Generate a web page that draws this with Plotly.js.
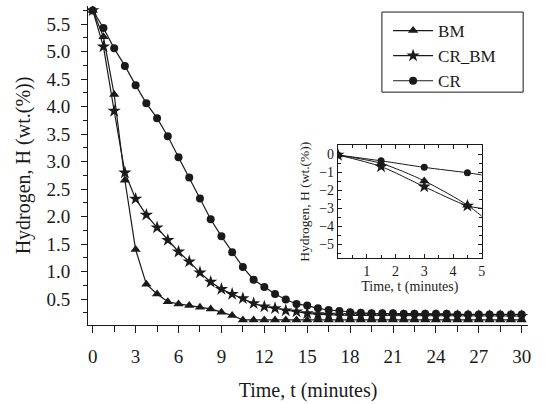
<!DOCTYPE html>
<html>
<head>
<meta charset="utf-8">
<script src="https://cdn.plot.ly/plotly-3.0.1.min.js"></script>
<style>html,body{margin:0;padding:0;background:#fff;}#chart{width:545px;height:404px;}</style>
</head>
<body>
<div id="chart"></div>
<script>
// Main chart data: time (minutes) and hydrogen content (wt.%)
const timeMin = [0, 0.75, 1.5, 2.25, 3, 3.75, 4.5, 5.25, 6, 6.75, 7.5, 8.25, 9, 9.75, 10.5, 11.25, 12, 12.75, 13.5, 14.25, 15, 15.75, 16.5, 17.25, 18, 18.75, 19.5, 20.25, 21, 21.75, 22.5, 23.25, 24, 24.75, 25.5, 26.25, 27, 27.75, 28.5, 29.25, 30];
const hBM = [5.75, 5.27, 4.22, 2.66, 1.40, 0.77, 0.59, 0.45, 0.41, 0.38, 0.35, 0.32, 0.26, 0.20, 0.12, 0.12, 0.12, 0.12, 0.12, 0.12, 0.12, 0.12, 0.12, 0.12, 0.12, 0.12, 0.12, 0.12, 0.12, 0.12, 0.12, 0.12, 0.12, 0.12, 0.12, 0.12, 0.12, 0.12, 0.12, 0.12, 0.12];
const hCRBM = [5.75, 5.09, 3.92, 2.80, 2.32, 2.03, 1.80, 1.57, 1.36, 1.18, 0.98, 0.81, 0.68, 0.59, 0.51, 0.42, 0.36, 0.33, 0.29, 0.27, 0.24, 0.22, 0.21, 0.20, 0.20, 0.20, 0.20, 0.20, 0.20, 0.19, 0.19, 0.19, 0.19, 0.19, 0.19, 0.19, 0.19, 0.19, 0.19, 0.19, 0.19];
const hCR = [5.75, 5.43, 5.06, 4.74, 4.39, 4.06, 3.79, 3.46, 3.08, 2.71, 2.33, 1.95, 1.64, 1.35, 1.08, 0.85, 0.72, 0.59, 0.49, 0.41, 0.38, 0.33, 0.30, 0.28, 0.26, 0.25, 0.24, 0.24, 0.24, 0.23, 0.23, 0.23, 0.23, 0.23, 0.22, 0.22, 0.22, 0.22, 0.22, 0.22, 0.22];

// Inset data: change in hydrogen (wt.%) over the first minutes
const insetTime = [0, 1.5, 3, 4.5, 5];
const insetBM = [-0.05, -0.51, -1.48, -2.82, -3.43];
const insetCRBM = [-0.05, -0.69, -1.80, -2.86, -3.00];
const insetCR = [-0.05, -0.37, -0.73, -1.03, -1.15];

const seriesNames = ['BM', 'CR_BM', 'CR'];

const FONT = 'Liberation Serif, Times New Roman, serif';
const BLACK = '#1a1a1a';

function mainTrace(y, name, symbol, size) {
  return {
    x: timeMin, y: y, name: name, type: 'scatter', mode: 'lines+markers',
    line: {color: BLACK, width: 1.2},
    marker: {symbol: symbol, size: size, color: BLACK, opacity: 1},
    xaxis: 'x', yaxis: 'y'
  };
}
function insetTrace(y, name, symbol, size) {
  const sizes = insetTime.map((t, i) => i === insetTime.length - 1 ? 0 : size);
  return {
    x: insetTime, y: y, name: name, type: 'scatter', mode: 'lines+markers',
    line: {color: BLACK, width: 1, shape: 'spline', smoothing: 0.8},
    marker: {symbol: symbol, size: sizes, color: BLACK, opacity: 1, line: {width: 0}},
    xaxis: 'x2', yaxis: 'y2', showlegend: false
  };
}

const data = [
  mainTrace(hBM, seriesNames[0], 'triangle-up', 9),
  mainTrace(hCRBM, seriesNames[1], 'star', 10),
  mainTrace(hCR, seriesNames[2], 'circle', 8),
  insetTrace(insetBM, seriesNames[0], 'triangle-up', 9),
  insetTrace(insetCRBM, seriesNames[1], 'star', 10),
  insetTrace(insetCR, seriesNames[2], 'circle', 7)
];

const xRange = [-0.33, 30.44];
const yRange = [0.027, 5.83];

const layout = {
  width: 545, height: 404,
  margin: {l: 88, r: 17, t: 6, b: 79},
  paper_bgcolor: '#fff', plot_bgcolor: 'rgba(0,0,0,0)',
  font: {family: FONT, color: BLACK, size: 19},
  showlegend: true,
  legend: {
    x: 0.682, y: 0.978, xanchor: 'left', yanchor: 'top',
    borderwidth: 0, bgcolor: 'rgba(0,0,0,0)',
    font: {family: FONT, size: 17, color: BLACK},
    itemwidth: 40, tracegroupgap: 0
  },
  shapes: [{
    type: 'rect', xref: 'paper', yref: 'paper',
    x0: 0.668, x1: 0.989, y0: 0.730, y1: 0.981,
    line: {color: BLACK, width: 1}, fillcolor: 'rgba(0,0,0,0)', layer: 'above'
  }],
  xaxis: {
    range: xRange, showgrid: false, zeroline: false,
    showline: true, linecolor: BLACK, linewidth: 1,
    ticks: 'outside', ticklen: 7, tickwidth: 1, tickcolor: BLACK,
    tick0: 0, dtick: 3, ticklabelstandoff: 7,
    minor: {dtick: 1.5, tick0: 0, ticks: 'outside', ticklen: 6, tickcolor: BLACK},
    tickfont: {family: FONT, size: 19, color: BLACK},
    title: {text: 'Time, t (minutes)', font: {family: FONT, size: 20, color: BLACK}, standoff: 17},
    anchor: 'y'
  },
  yaxis: {
    range: yRange, showgrid: false, zeroline: false,
    showline: true, linecolor: BLACK, linewidth: 1,
    ticks: 'outside', ticklen: 6, tickwidth: 1, tickcolor: BLACK,
    tick0: 0.5, dtick: 0.5, tickformat: '.1f', ticklabelstandoff: 7,
    minor: {dtick: 0.25, tick0: 0, ticks: 'outside', ticklen: 4, tickcolor: BLACK},
    tickfont: {family: FONT, size: 19, color: BLACK},
    title: {text: 'Hydrogen, H (wt.(%))', font: {family: FONT, size: 20, color: BLACK}, standoff: 10},
    anchor: 'x'
  },
  xaxis3: {
    overlaying: 'x', side: 'top', anchor: 'y', range: xRange,
    showgrid: false, zeroline: false, showline: true, linecolor: BLACK, linewidth: 1,
    ticks: 'inside', ticklen: 4, tickcolor: BLACK, tick0: 0, dtick: 1.5, showticklabels: false
  },
  yaxis3: {
    overlaying: 'y', side: 'right', anchor: 'x', range: yRange,
    showgrid: false, zeroline: false, showline: true, linecolor: BLACK, linewidth: 1,
    ticks: 'inside', ticklen: 4, tickcolor: BLACK, tick0: 0, dtick: 0.25, showticklabels: false
  },
  xaxis2: {
    domain: [0.568, 0.895], anchor: 'y2', range: [0, 5],
    showgrid: false, zeroline: false, showline: true, mirror: 'allticks', linecolor: BLACK, linewidth: 1,
    ticks: 'inside', ticklen: 4, tickcolor: BLACK,
    tickvals: [1, 2, 3, 4, 5],
    minor: {dtick: 0.5, tick0: 0, ticks: 'inside', ticklen: 3, tickcolor: BLACK},
    tickfont: {family: FONT, size: 14, color: BLACK},
    title: {text: 'Time, t (minutes)', font: {family: FONT, size: 14, color: BLACK}, standoff: 0}
  },
  yaxis2: {
    domain: [0.209, 0.564], anchor: 'x2', range: [-5.76, 0.5],
    showgrid: false, zeroline: false, showline: true, mirror: 'allticks', linecolor: BLACK, linewidth: 1,
    ticks: 'inside', ticklen: 4, tickcolor: BLACK,
    tick0: 0, dtick: 1,
    minor: {dtick: 0.5, tick0: 0, ticks: 'inside', ticklen: 3, tickcolor: BLACK},
    tickfont: {family: FONT, size: 14, color: BLACK},
    title: {text: 'Hydrogen, H (wt.(%))', font: {family: FONT, size: 13.5, color: BLACK}, standoff: 6}
  }
};

Plotly.newPlot('chart', data, layout, {staticPlot: true, displayModeBar: false});
</script>
</body>
</html>
